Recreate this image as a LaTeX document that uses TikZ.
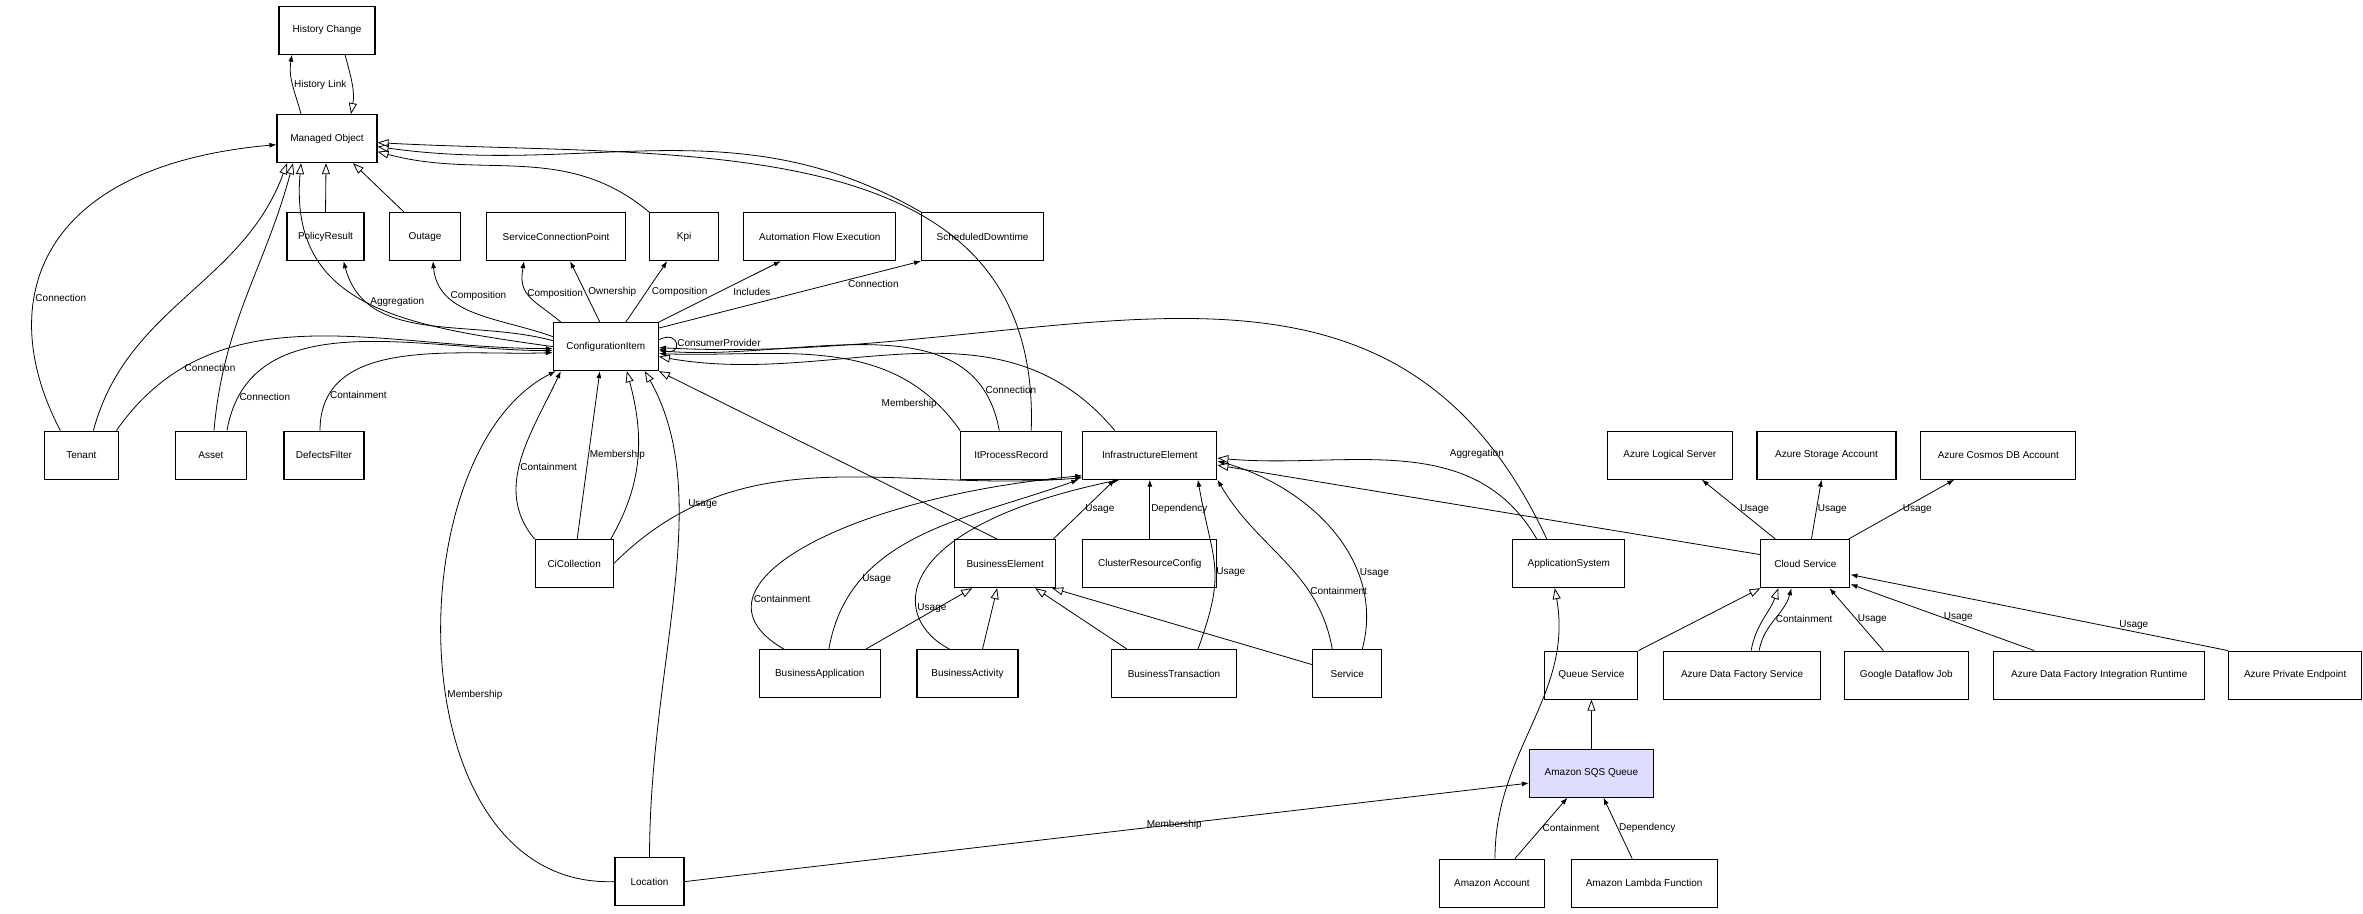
\documentclass[tikz,border=0pt]{standalone}
\usepackage{fontspec}
\setmainfont{Liberation Sans}
\usetikzlibrary{arrows.meta}
\begin{document}
\begin{tikzpicture}[x=1.507pt,y=-1.507pt,
		box/.style={draw,line width=1.1pt,minimum height=48pt,inner sep=2pt,font=\fontsize{10}{12}\selectfont},
		assoc/.style={-{Latex[length=7pt,width=5pt]},line width=0.8pt},
		gen/.style={-{Triangle[open,length=11pt,width=8pt]},line width=0.8pt},
		lbl/.style={font=\fontsize{10}{12}\selectfont,inner sep=1pt}
		]
		\useasboundingbox (0,0) rectangle (1568,606);
		% top rows
		\node[box,minimum width=96pt] (hist) at (217,20) {History Change};
		\node[box,minimum width=100pt] (mo) at (217,92) {Managed Object};
		\node[box,minimum width=77pt] (policy) at (216,157) {PolicyResult};
		\node[box,minimum width=71pt] (outage) at (282,157) {Outage};
		\node[box,minimum width=139pt] (scp) at (369,157) {ServiceConnectionPoint};
		\node[box,minimum width=69pt] (kpi) at (454,157) {Kpi};
		\node[box,minimum width=152pt] (afe) at (544,157) {Automation Flow Execution};
		\node[box,minimum width=122pt] (sched) at (652,157) {ScheduledDowntime};
		\node[box,minimum width=105pt] (ci) at (402,230) {ConfigurationItem};
		% third row
		\node[box,minimum width=74pt] (tenant) at (54,302) {Tenant};
		\node[box,minimum width=71pt] (asset) at (140,302) {Asset};
		\node[box,minimum width=80pt] (defects) at (215,302) {DefectsFilter};
		\node[box,minimum width=101pt] (itpr) at (671,302) {ItProcessRecord};
		\node[box,minimum width=134pt] (infra) at (763,302) {InfrastructureElement};
		\node[box,minimum width=125pt] (azls) at (1108,302) {Azure Logical Server};
		\node[box,minimum width=139pt] (azsa) at (1212,302) {Azure Storage Account};
		\node[box,minimum width=155pt] (azcos) at (1326,302) {Azure Cosmos DB Account};
		% fourth row
		\node[box,minimum width=78pt] (cicoll) at (381,374) {CiCollection};
		\node[box,minimum width=101pt] (bizel) at (667,374) {BusinessElement};
		\node[box,minimum width=134pt] (cluster) at (763,374) {ClusterResourceConfig};
		\node[box,minimum width=112pt] (appsys) at (1041,374) {ApplicationSystem};
		\node[box,minimum width=89pt] (cloud) at (1198,374) {Cloud Service};
		% fifth row
		\node[box,minimum width=121pt] (bizapp) at (544,447) {BusinessApplication};
		\node[box,minimum width=101pt] (bizact) at (642,447) {BusinessActivity};
		\node[box,minimum width=125pt] (biztx) at (779,447) {BusinessTransaction};
		\node[box,minimum width=69pt] (service) at (894,447) {Service};
		\node[box,minimum width=93pt] (queue) at (1056,448) {Queue Service};
		\node[box,minimum width=157pt] (adfs) at (1156,448) {Azure Data Factory Service};
		\node[box,minimum width=124pt] (gdj) at (1265,448) {Google Dataflow Job};
		\node[box,minimum width=211pt] (adfir) at (1393,448) {Azure Data Factory Integration Runtime};
		\node[box,minimum width=133pt] (ape) at (1523,448) {Azure Private Endpoint};
		% bottom
		\node[box,minimum width=124pt,fill={rgb,255:red,221;green,221;blue,255}] (sqs) at (1056,513) {Amazon SQS Queue};
		\node[box,minimum width=69pt] (loc) at (431,585) {Location};
		\node[box,minimum width=105pt] (amzacc) at (990,586) {Amazon Account};
		\node[box,minimum width=146pt] (lambda) at (1091,586) {Amazon Lambda Function};

		% managed object links
		\draw[assoc] ([xshift=-26pt]mo.north) to[out=105,in=-100] node[lbl,pos=.5,anchor=west] {History Link} ([xshift=-35pt]hist.south);
		\draw[gen] ([xshift=18pt]hist.south) to[out=-75,in=80] ([xshift=24pt]mo.north);
		\draw[assoc] ([xshift=-21pt]tenant.north) .. controls (-5,200) and (25,110) .. node[lbl,pos=.35,anchor=west] {Connection} ([yshift=-6pt]mo.west);
		\draw[gen] ([xshift=12pt]tenant.north) to[out=75,in=-110] ([xshift=-40pt]mo.south);
		\draw[gen] ([xshift=3pt]asset.north) to[out=85,in=-105] ([xshift=-34pt]mo.south);
		\draw[gen] (ci.west) to[out=172,in=-95,looseness=1.2] ([xshift=-26pt]mo.south);
		\draw[gen] (policy.north) -- ([xshift=-1pt]mo.south);
		\draw[gen] ([xshift=-21pt]outage.north) -- ([xshift=26pt]mo.south);
		\draw[gen] (kpi.north west) to[out=140,in=-15] ([yshift=-13pt]mo.east);
		\draw[gen] (sched.north west) to[out=150,in=-8] ([yshift=-8pt]mo.east);
		\draw[gen] ([xshift=20pt]itpr.north) to[out=88,in=-3,looseness=1.1] ([yshift=-4pt]mo.east);
		% configuration item outgoing
		\draw[assoc] ([yshift=6pt]ci.west) to[out=165,in=-75] node[lbl,pos=.78,anchor=west] {Aggregation} ([xshift=18pt]policy.south);
		\draw[assoc] ([yshift=10pt]ci.west) to[out=160,in=-85] node[lbl,pos=.72,anchor=west] {Composition} ([xshift=8pt]outage.south);
		\draw[assoc] ([xshift=-45pt]ci.north) to[out=140,in=-100,looseness=1.3] node[lbl,pos=.55,anchor=west,xshift=-2pt] {Composition} ([xshift=-32pt]scp.south);
		\draw[assoc] ([xshift=-6pt]ci.north) -- node[lbl,pos=.5,anchor=west,xshift=2pt] {Ownership} ([xshift=14pt]scp.south);
		\draw[assoc] ([xshift=20pt]ci.north) -- node[lbl,pos=.5,anchor=west,xshift=4pt] {Composition} ([xshift=-17pt]kpi.south);
		\draw[assoc] (ci.north east) -- node[lbl,pos=.5,anchor=west,xshift=12pt] {Includes} ([xshift=-39pt]afe.south);
		\draw[assoc] ([yshift=-6pt]ci.north east) -- node[lbl,pos=.72,anchor=north west,inner sep=0pt] {Connection} (sched.south west);
		\draw[assoc] ([yshift=7pt]ci.east) to[out=25,in=-20,looseness=7] node[lbl,pos=.5,anchor=west] {ConsumerProvider} ([yshift=-2pt]ci.east);
		% configuration item incoming
		\draw[assoc] ([xshift=35pt]tenant.north) to[out=55,in=180] node[lbl,pos=.2,anchor=west] {Connection} ([yshift=-2pt]ci.west);
		\draw[assoc] ([xshift=16pt]asset.north) to[out=80,in=180] node[lbl,pos=.1,anchor=west] {Connection} ([yshift=-4pt]ci.west);
		\draw[assoc] ([xshift=-4pt]defects.north) to[out=90,in=182] node[lbl,pos=.15,anchor=west] {Containment} ([yshift=-6pt]ci.west);
		\draw[assoc] (itpr.north west) to[out=125,in=-2] node[lbl,pos=.1,anchor=east] {Membership} ([yshift=-7pt]ci.east);
		\draw[assoc] ([xshift=-12pt]itpr.north) to[out=100,in=-5] node[lbl,pos=.12,anchor=west] {Connection} ([yshift=-4pt]ci.east);
		\draw[gen] ([xshift=-35pt]infra.north) to[out=130,in=-10] ([yshift=-10pt]ci.east);
		\draw[assoc] ([xshift=-22pt]appsys.north) to[out=115,in=-3,looseness=1.1] ([yshift=-1pt]ci.east);
		\node[lbl] (aggrlabel) at (980,301) {Aggregation};
		\draw[assoc] (cicoll.north west) to[out=130,in=-115] node[lbl,pos=.45,anchor=west] {Containment} ([xshift=-45pt]ci.south);
		\draw[assoc] ([xshift=3pt]cicoll.north) -- node[lbl,pos=.5,anchor=west] {Membership} ([xshift=-6pt]ci.south);
		\draw[gen] ([xshift=-3pt]cicoll.north east) to[out=60,in=-75] ([xshift=21pt]ci.south);
		\draw[gen] (loc.north) .. controls (431,440) and (475,330) .. ([xshift=39pt]ci.south);
		\draw[assoc] (loc.west) .. controls (262,590) and (262,300) .. node[lbl,pos=.45,anchor=west] {Membership} ([xshift=3pt]ci.south west);
		\draw[gen] ([xshift=-8pt]bizel.north) -- (ci.south east);
		% infrastructure element
		\draw[assoc] (cicoll.east) to[out=45,in=185] node[lbl,pos=.18,anchor=south west] {Usage} ([yshift=2pt]infra.south west);
		\draw[assoc] ([xshift=-3pt]bizel.north east) -- node[lbl,pos=.5,anchor=west] {Usage} ([xshift=-35pt]infra.south);
		\draw[assoc] (cluster.north) -- node[lbl,pos=.5,anchor=west] {Dependency} (infra.south);
		\draw[assoc] ([xshift=-36pt]bizapp.north) .. controls (450,390) and (560,330) .. node[lbl,pos=.25,anchor=west] {Containment} ([yshift=4pt]infra.south west);
		\draw[assoc] ([xshift=9pt]bizapp.north) to[out=80,in=200] node[lbl,pos=.25,anchor=west] {Usage} ([xshift=-4pt]infra.south west);
		\draw[assoc] ([xshift=-18pt]bizact.north) .. controls (590,410) and (590,350) .. node[lbl,pos=.3,anchor=west] {Usage} ([xshift=-30pt]infra.south);
		\draw[assoc] ([xshift=24pt]biztx.north) to[out=70,in=-80,looseness=1.3] node[lbl,pos=.45,anchor=west] {Usage} ([xshift=48pt]infra.south);
		\draw[assoc] ([xshift=-15pt]service.north) to[out=100,in=-60] node[lbl,pos=.3,anchor=west] {Containment} (infra.south east);
		\draw[assoc] ([xshift=15pt]service.north) to[out=75,in=-15] node[lbl,pos=.3,anchor=west] {Usage} ([yshift=-6pt]infra.east);
		\draw[gen] ([xshift=-32pt]appsys.north) to[out=120,in=-5] ([yshift=-3pt]infra.east);
		\draw[gen] ([yshift=9pt]cloud.west) -- ([yshift=-10pt]infra.east);
		% business element
		\draw[gen] ([xshift=-15pt]bizapp.north east) -- ([xshift=-33pt]bizel.south);
		\draw[gen] ([xshift=15pt]bizact.north) -- ([xshift=-8pt]bizel.south);
		\draw[gen] ([xshift=-47pt]biztx.north) -- ([xshift=30pt]bizel.south);
		\draw[gen] ([yshift=9pt]service.west) -- ([xshift=47pt]bizel.south);
		% cloud service
		\draw[assoc] ([xshift=-30pt]cloud.north) -- node[lbl,pos=.5,anchor=west] {Usage} ([xshift=32pt]azls.south);
		\draw[assoc] ([xshift=6pt]cloud.north) -- node[lbl,pos=.5,anchor=west] {Usage} ([xshift=-5pt]azsa.south);
		\draw[assoc] ([xshift=-2pt]cloud.north east) -- node[lbl,pos=.5,anchor=west] {Usage} ([xshift=-44pt]azcos.south);
		\draw[gen] (queue.north east) -- (cloud.south west);
		\draw[gen] ([xshift=9pt]adfs.north) to[out=80,in=-110] ([xshift=-27pt]cloud.south);
		\draw[assoc] ([xshift=17pt]adfs.north) to[out=80,in=-105] node[lbl,pos=.5,anchor=west] {Containment} ([xshift=-14pt]cloud.south);
		\draw[assoc] ([xshift=-23pt]gdj.north) -- node[lbl,pos=.5,anchor=west] {Usage} ([xshift=24pt]cloud.south);
		\draw[assoc] ([xshift=-65pt]adfir.north) -- node[lbl,pos=.5,anchor=west] {Usage} ([yshift=4pt]cloud.south east);
		\draw[assoc] (ape.north west) -- node[lbl,pos=.25,above=1pt] {Usage} ([yshift=-11pt]cloud.east);
		% amazon
		\draw[gen] (sqs.north) -- (queue.south);
		\draw[gen] ([xshift=3pt]amzacc.north) to[out=90,in=-80] ([xshift=-14pt]appsys.south);
		\draw[assoc] ([xshift=23pt]amzacc.north) -- node[lbl,pos=.5,anchor=west] {Containment} ([xshift=-24pt]sqs.south);
		\draw[assoc] ([xshift=-12pt]lambda.north) -- node[lbl,pos=.5,anchor=west] {Dependency} ([xshift=12pt]sqs.south);
		\draw[assoc] (loc.east) -- node[lbl,pos=.58] {Membership} ([yshift=-10pt]sqs.west);
	\end{tikzpicture}
\end{document}
